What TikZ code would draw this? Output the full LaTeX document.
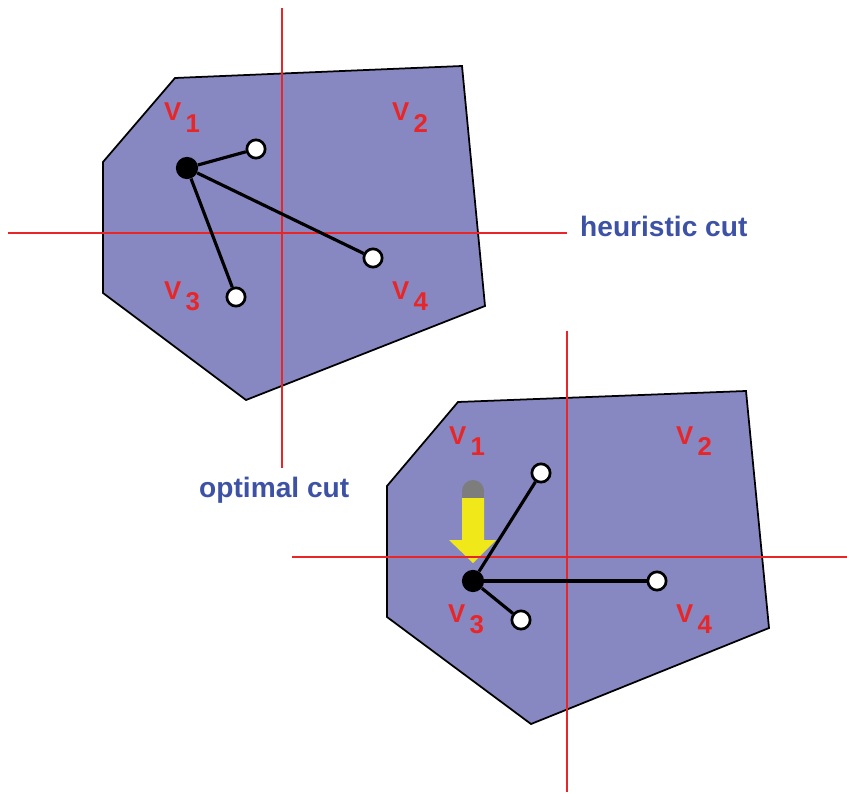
\documentclass[tikz,border=0pt]{standalone}
\usepackage{fontspec}
\setmainfont{Liberation Sans}

\definecolor{cellfill}{RGB}{135,136,194}
\definecolor{cutred}{RGB}{232,38,40}
\definecolor{cutblue}{RGB}{62,82,165}
\definecolor{shiftyellow}{RGB}{240,232,24}
\definecolor{shiftgray}{RGB}{125,125,125}

\newcommand{\qlabel}[1]{V\hspace{3.5pt}\raisebox{-9.5pt}{#1}}

\tikzset{
  cell/.style={fill=cellfill, draw=black, line width=1.5pt},
  cutline/.style={cutred, line width=1.7pt},
  cutlabel/.style={cutblue, anchor=base west, inner sep=0pt,
    font=\fontsize{24}{28}\selectfont\bfseries},
  quadlabel/.style={cutred, anchor=base west, inner sep=0pt,
    font=\fontsize{22}{26}\selectfont\bfseries},
  hub/.style={circle, fill=black, inner sep=0pt, minimum size=19pt},
  leaf/.style={circle, draw=black, fill=white, line width=2.3pt,
    inner sep=0pt, minimum size=15.6pt},
  link/.style={line width=2.7pt},
}

\begin{document}
\begin{tikzpicture}[x=0.03cm, y=-0.03cm]
  \useasboundingbox (0,0) rectangle (847,794);

  %% Upper cell (heuristic cut)
  \draw[cell] (175,78) -- (462,66) -- (485,306) -- (246,400)
    -- (103,293) -- (103,162) -- cycle;
  \draw[cutline] (282,8) -- (282,468);
  \draw[cutline] (8,233) -- (567,233);
  \node[cutlabel] (heur) at (580,237) {heuristic cut};

  \node[quadlabel] (hq1) at (164,121) {\qlabel{1}};
  \node[quadlabel] (hq2) at (392,121) {\qlabel{2}};
  \node[quadlabel] (hq3) at (164,299) {\qlabel{3}};
  \node[quadlabel] (hq4) at (392,299) {\qlabel{4}};

  \node[hub]  (hv) at (187,168) {};
  \node[leaf] (ha) at (256,149) {};
  \node[leaf] (hb) at (373,258) {};
  \node[leaf] (hc) at (236,297) {};
  \draw[link] (hv) -- (ha);
  \draw[link] (hv) -- (hb);
  \draw[link] (hv) -- (hc);

  %% Lower cell (optimal cut)
  \draw[cell] (458,402) -- (746,391) -- (769,628) -- (531,724)
    -- (387,617) -- (387,486) -- cycle;

  %% Shift of the split point
  \fill[shiftgray] (473,491) circle (11);
  \fill[shiftgray] (462,491) rectangle (484,499);
  \fill[shiftyellow] (462,498) -- (484,498) -- (484,540) -- (496,540)
    -- (473,563) -- (449,540) -- (462,540) -- cycle;

  \draw[cutline] (567,331) -- (567,792);
  \draw[cutline] (292,557) -- (847,557);
  \node[cutlabel] (opt) at (199,497) {optimal cut};

  \node[quadlabel] (oq1) at (449,444) {\qlabel{1}};
  \node[quadlabel] (oq2) at (676,444) {\qlabel{2}};
  \node[quadlabel] (oq3) at (448,622) {\qlabel{3}};
  \node[quadlabel] (oq4) at (676,622) {\qlabel{4}};

  \node[hub]  (ov) at (473,581) {};
  \node[leaf] (oa) at (541,473) {};
  \node[leaf] (ob) at (657,581) {};
  \node[leaf] (oc) at (521,620) {};
  \draw[link] (ov) -- (oa);
  \draw[link] (ov) -- (ob);
  \draw[link] (ov) -- (oc);

\end{tikzpicture}
\end{document}
